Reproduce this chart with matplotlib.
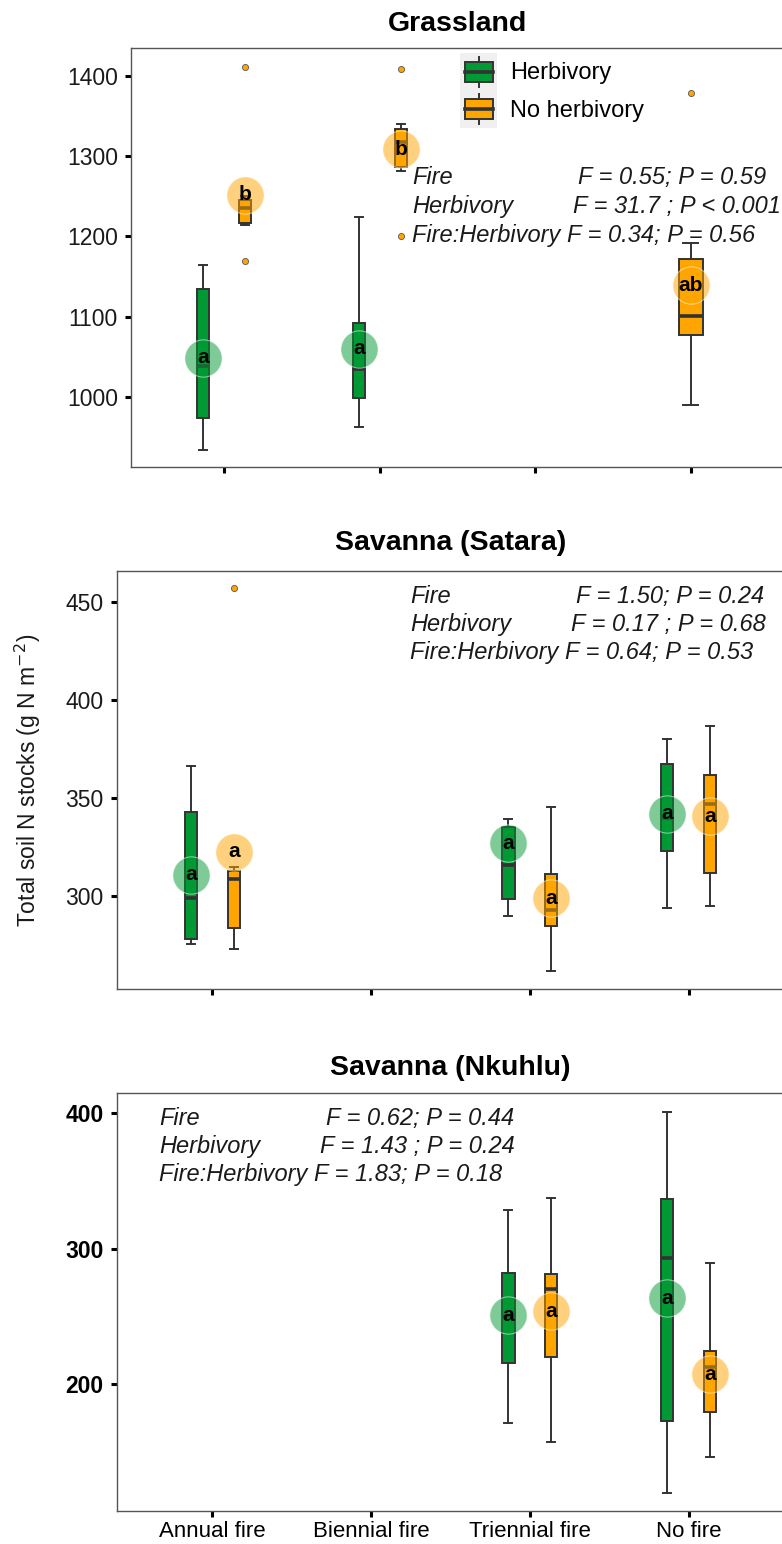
import matplotlib.pyplot as plt
from matplotlib.legend_handler import HandlerBase
from matplotlib.patches import Rectangle, Patch
from matplotlib.lines import Line2D

plt.rcParams['font.family'] = ['Liberation Sans', 'DejaVu Sans']

fire_levels = ['Annual fire', 'Biennial fire', 'Triennial fire', 'No fire']

# Grassland, herbivory (green) and no herbivory (orange)
grass_h_x = [1, 2]
grass_h_lo = [934, 963]
grass_h_q1 = [974, 999]
grass_h_med = [1038, 1035]
grass_h_q3 = [1135, 1092]
grass_h_hi = [1165, 1224]
grass_h_mean = [1049, 1060]
grass_h_fliers = [[], []]
grass_h_letters = ['a', 'a']

grass_n_x = [1, 2, 4]
grass_n_lo = [1214, 1281, 990]
grass_n_q1 = [1217, 1286, 1077]
grass_n_med = [1235, 1318, 1101]
grass_n_q3 = [1246, 1334, 1172]
grass_n_hi = [1250, 1340, 1192]
grass_n_mean = [1252, 1309, 1139]
grass_n_fliers = [[1411, 1170], [1409, 1200], [1379]]
grass_n_letters = ['b', 'b', 'ab']

grass_stats = ['F = 0.55; P = 0.59', 'F = 31.7 ; P < 0.001', 'F = 0.34; P = 0.56']

# Savanna (Satara)
sat_h_x = [1, 3, 4]
sat_h_lo = [275.5, 289.8, 294]
sat_h_q1 = [278, 298.5, 323]
sat_h_med = [299, 315.8, 340]
sat_h_q3 = [342.9, 335, 367.3]
sat_h_hi = [366.3, 339.3, 380]
sat_h_mean = [311, 327, 342]
sat_h_fliers = [[], [], []]
sat_h_letters = ['a', 'a', 'a']

sat_n_x = [1, 3, 4]
sat_n_lo = [273, 261.7, 295]
sat_n_q1 = [283.7, 284.7, 311.7]
sat_n_med = [308.7, 293, 347]
sat_n_q3 = [313, 311.2, 362]
sat_n_hi = [314.8, 345.4, 386.7]
sat_n_mean = [322.5, 299, 340.8]
sat_n_fliers = [[457], [], []]
sat_n_letters = ['a', 'a', 'a']

sat_stats = ['F = 1.50; P = 0.24', 'F = 0.17 ; P = 0.68', 'F = 0.64; P = 0.53']

# Savanna (Nkuhlu)
nk_h_x = [3, 4]
nk_h_lo = [171.2, 119.6]
nk_h_q1 = [215.5, 172.6]
nk_h_med = [250, 293]
nk_h_q3 = [281.9, 336.5]
nk_h_hi = [328.4, 400.7]
nk_h_mean = [250.9, 263.5]
nk_h_fliers = [[], []]
nk_h_letters = ['a', 'a']

nk_n_x = [3, 4]
nk_n_lo = [157, 146]
nk_n_q1 = [220, 179.3]
nk_n_med = [270, 212.5]
nk_n_q3 = [281.2, 224.4]
nk_n_hi = [337, 289.3]
nk_n_mean = [253.9, 207.4]
nk_n_fliers = [[], []]
nk_n_letters = ['a', 'a']

nk_stats = ['F = 0.62; P = 0.44', 'F = 1.43 ; P = 0.24', 'F = 1.83; P = 0.18']

GREEN = '#009933'
ORANGE = '#FFA500'
EDGE = '#333333'
DODGE = 0.135
BOX_W = 0.077
CAP_W = 0.05


def draw_group(ax, xs, lo, q1, med, q3, hi, mean, fliers, letters, color, side, partner_xs):
    stats, pos, widths, caps = [], [], [], []
    for i, x in enumerate(xs):
        paired = x in partner_xs
        pos.append(x + side * DODGE if paired else x)
        widths.append(BOX_W if paired else 2 * BOX_W)
        caps.append(CAP_W if paired else 2 * CAP_W)
        stats.append(dict(whislo=lo[i], q1=q1[i], med=med[i], q3=q3[i],
                          whishi=hi[i], fliers=fliers[i]))
    ax.bxp(stats, positions=pos, widths=widths, capwidths=caps,
           patch_artist=True, manage_ticks=False,
           boxprops=dict(facecolor=color, edgecolor=EDGE, linewidth=1.4),
           medianprops=dict(color=EDGE, linewidth=2.6),
           whiskerprops=dict(color=EDGE, linewidth=1.4),
           capprops=dict(color=EDGE, linewidth=1.4),
           flierprops=dict(marker='o', markerfacecolor=color, markeredgecolor='#555555',
                           markersize=4.4, markeredgewidth=0.6))
    ax.scatter(pos, mean, s=720, color=color, alpha=0.5, edgecolors='white',
               linewidths=0.8, zorder=4)
    for p, m, t in zip(pos, mean, letters):
        ax.text(p, m, t, ha='center', va='center', fontsize=15, fontweight='bold',
                color='black', zorder=5)


def stats_block(ax, x_lab, x_f1, x_f2, ys, lines):
    kw = dict(transform=ax.transAxes, fontsize=17, style='italic', va='center',
              color='#1a1a1a')
    ax.text(x_lab, ys[0], 'Fire', **kw)
    ax.text(x_f1, ys[0], lines[0], **kw)
    ax.text(x_lab, ys[1], 'Herbivory', **kw)
    ax.text(x_f2, ys[1], lines[1], **kw)
    ax.text(x_lab, ys[2], 'Fire:Herbivory ' + lines[2], **kw)


def style_axes(ax, title, pad, yticks, ylim, show_labels):
    ax.set_xlim(0.4, 4.6)
    ax.set_ylim(*ylim)
    ax.set_yticks(yticks)
    ax.set_xticks([1, 2, 3, 4])
    ax.set_xticklabels(fire_levels if show_labels else [''] * 4)
    ax.tick_params(length=4.5, width=2.2, color='black', labelsize=16.5,
                   labelcolor='#1a1a1a', pad=5)
    for s in ax.spines.values():
        s.set_color('#555555')
        s.set_linewidth(1.0)
    ax.set_title(title, fontsize=20.5, fontweight='bold', pad=pad)


class BoxKey(HandlerBase):
    def create_artists(self, legend, orig_handle, xdescent, ydescent, width, height,
                       fontsize, trans):
        fc = orig_handle.get_facecolor()
        x0, y0 = -xdescent, -ydescent
        bg = Rectangle((x0, y0), width, height, facecolor='#f0f0f0', edgecolor='none',
                       transform=trans)
        cx = x0 + width / 2
        stem = Line2D([cx, cx], [y0 + 0.1 * height, y0 + 0.9 * height], color=EDGE,
                      lw=1.4, transform=trans)
        box = Rectangle((x0 + 0.12 * width, y0 + 0.23 * height), 0.76 * width,
                        0.54 * height, facecolor=fc, edgecolor=EDGE, lw=1.4,
                        transform=trans)
        med = Line2D([x0 + 0.12 * width, x0 + 0.88 * width], [y0 + height / 2] * 2,
                     color=EDGE, lw=2.6, transform=trans)
        return [bg, stem, box, med]


fig = plt.figure(figsize=(7.82, 15.44), dpi=100)
ax1 = fig.add_axes([131 / 782, 1 - 467 / 1544, 653 / 782, 419 / 1544])
ax2 = fig.add_axes([117 / 782, 1 - 989 / 1544, 667 / 782, 418 / 1544])
ax3 = fig.add_axes([117 / 782, 1 - 1511 / 1544, 667 / 782, 418 / 1544])

# Grassland
draw_group(ax1, grass_h_x, grass_h_lo, grass_h_q1, grass_h_med, grass_h_q3, grass_h_hi,
           grass_h_mean, grass_h_fliers, grass_h_letters, GREEN, -1, grass_n_x)
draw_group(ax1, grass_n_x, grass_n_lo, grass_n_q1, grass_n_med, grass_n_q3, grass_n_hi,
           grass_n_mean, grass_n_fliers, grass_n_letters, ORANGE, 1, grass_h_x)
style_axes(ax1, 'Grassland', 12, [1000, 1100, 1200, 1300, 1400], (912.5, 1435), False)
stats_block(ax1, 0.430, 0.685, 0.677, [0.690, 0.621, 0.552], grass_stats)

handles = [Patch(facecolor=GREEN), Patch(facecolor=ORANGE)]
ax1.legend(handles, ['Herbivory', 'No herbivory'], handler_map={Patch: BoxKey()},
           loc='upper left', bbox_to_anchor=(0.504, 0.988), frameon=False,
           borderpad=0, borderaxespad=0, labelspacing=0, handlelength=1.57,
           handleheight=2.07, handletextpad=0.55, fontsize=17)

# Savanna (Satara)
draw_group(ax2, sat_h_x, sat_h_lo, sat_h_q1, sat_h_med, sat_h_q3, sat_h_hi,
           sat_h_mean, sat_h_fliers, sat_h_letters, GREEN, -1, sat_n_x)
draw_group(ax2, sat_n_x, sat_n_lo, sat_n_q1, sat_n_med, sat_n_q3, sat_n_hi,
           sat_n_mean, sat_n_fliers, sat_n_letters, ORANGE, 1, sat_h_x)
style_axes(ax2, 'Savanna (Satara)', 15, [300, 350, 400, 450], (252.6, 465.8), False)
stats_block(ax2, 0.439, 0.688, 0.681, [0.940, 0.873, 0.804], sat_stats)

# Savanna (Nkuhlu)
draw_group(ax3, nk_h_x, nk_h_lo, nk_h_q1, nk_h_med, nk_h_q3, nk_h_hi,
           nk_h_mean, nk_h_fliers, nk_h_letters, GREEN, -1, nk_n_x)
draw_group(ax3, nk_n_x, nk_n_lo, nk_n_q1, nk_n_med, nk_n_q3, nk_n_hi,
           nk_n_mean, nk_n_fliers, nk_n_letters, ORANGE, 1, nk_h_x)
style_axes(ax3, 'Savanna (Nkuhlu)', 13, [200, 300, 400], (106.3, 414.8), True)
stats_block(ax3, 0.063, 0.313, 0.304, [0.940, 0.871, 0.804], nk_stats)
ax3.tick_params(axis='x', pad=3, labelsize=16)
for lbl in ax3.get_yticklabels():
    lbl.set_fontweight('bold')
    lbl.set_color('black')
for lbl in ax3.get_xticklabels():
    lbl.set_color('black')

fig.text(28 / 782, 1 - 780 / 1544, 'Total soil N stocks (g N m$^{-2}$)', rotation=90,
         ha='center', va='center', fontsize=16.5, color='#1a1a1a')

fig.savefig('out.png', dpi=100)
